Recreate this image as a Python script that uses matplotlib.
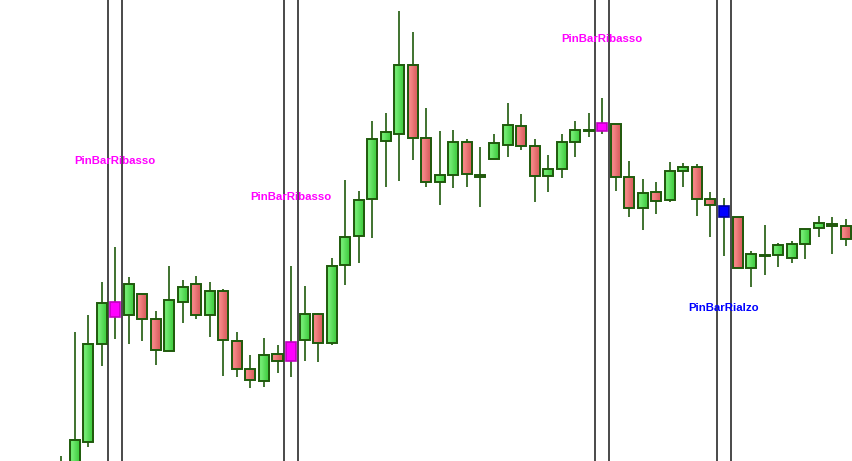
import matplotlib.pyplot as plt
from matplotlib.patches import Rectangle
from matplotlib.colors import LinearSegmentedColormap
import numpy as np

# candle values (price points, no axis shown)
opens = [-29, -9, 19, 117, 159, 146, 167, 142, 110, 159,
         177, 146, 170, 120, 92, 80, 107, 119, 121, 147,
         118, 196, 225, 262, 320, 327, 396, 323, 279, 286,
         319, 286, 302, 316, 335, 315, 285, 292, 319, 330,
         338, 337, 284, 253, 269, 261, 290, 294, 262, 255,
         244, 193, 205, 206, 203, 217, 233, 237, 235]
closes = [-9, 21, 117, 158, 144, 177, 142, 111, 161, 174,
          146, 170, 121, 92, 81, 106, 100, 100, 147, 118,
          195, 224, 261, 322, 329, 396, 323, 279, 286, 319,
          287, 284, 318, 336, 315, 285, 292, 319, 331, 331,
          330, 284, 253, 268, 260, 290, 294, 262, 256, 244,
          193, 207, 206, 216, 217, 232, 238, 235, 222]
highs = [5, 129, 146, 179, 214, 184, 167, 150, 195, 181,
         185, 179, 172, 129, 106, 123, 116, 195, 175, 148,
         203, 281, 270, 340, 348, 450, 429, 353, 330, 331,
         322, 314, 327, 358, 347, 322, 306, 327, 340, 348,
         363, 337, 300, 282, 279, 299, 298, 297, 269, 263,
         244, 210, 236, 218, 220, 232, 245, 244, 242]
lows = [-34, -19, 14, 95, 122, 117, 120, 96, 110, 138,
        142, 124, 85, 84, 73, 74, 88, 84, 100, 99,
        116, 176, 198, 223, 274, 280, 301, 274, 256, 273,
        274, 254, 302, 304, 311, 259, 269, 283, 304, 324,
        327, 270, 244, 231, 247, 259, 274, 245, 224, 205,
        193, 174, 186, 194, 198, 202, 224, 207, 215]

# pin bar signals: candle index, label, colour
pin_idx = [4, 17, 40, 49]
pin_labels = ["PinBarRibasso", "PinBarRibasso", "PinBarRibasso", "PinBarRialzo"]
pin_colors = ["#ff00ff", "#ff00ff", "#ff00ff", "#0000ff"]
pin_edges = ["#c000c0", "#c000c0", "#c000c0", "#0000a0"]
label_y = [300, 264, 422, 153]

green_cm = LinearSegmentedColormap.from_list("g", ["#70ea70", "#46d046"])
red_cm = LinearSegmentedColormap.from_list("r", ["#f48484", "#dc6262"])
grad = np.array([[0.0, 1.0]])

edge = "#1f5a0c"
w = 0.74

fig = plt.figure(figsize=(8.52, 4.61), dpi=100)
ax = fig.add_axes([0, 0, 1, 1])
ax.axis("off")

for k, i in enumerate(pin_idx):
    for dx in (-0.5, 0.5):
        ax.axvline(i + dx, color="#3a3a3a", lw=1.3, zorder=1)

for i in range(len(opens)):
    o, c, h, l = opens[i], closes[i], highs[i], lows[i]
    ax.vlines(i, l, h, color=edge, lw=1.2, zorder=2)
    bot, top = min(o, c), max(o, c)
    if i in pin_idx:
        k = pin_idx.index(i)
        ax.add_patch(Rectangle((i - w / 2, bot), w, top - bot, facecolor=pin_colors[k],
                               edgecolor=pin_edges[k], lw=1.2, zorder=3))
        continue
    cm = green_cm if c >= o else red_cm
    ax.imshow(grad, cmap=cm, aspect="auto", extent=(i - w / 2, i + w / 2, bot, top),
              interpolation="bilinear", zorder=3)
    ax.add_patch(Rectangle((i - w / 2, bot), w, top - bot, facecolor="none",
                           edgecolor=edge, lw=1.4, zorder=4))

for k, i in enumerate(pin_idx):
    ax.text(i, label_y[k], pin_labels[k], color=pin_colors[k], ha="center", va="center",
            fontsize=8.2, fontweight="bold", family="Liberation Sans", zorder=5)

ax.set_xlim(-4.51, 58.46)
ax.set_ylim(0, 461)
fig.savefig("out.png", dpi=100)
